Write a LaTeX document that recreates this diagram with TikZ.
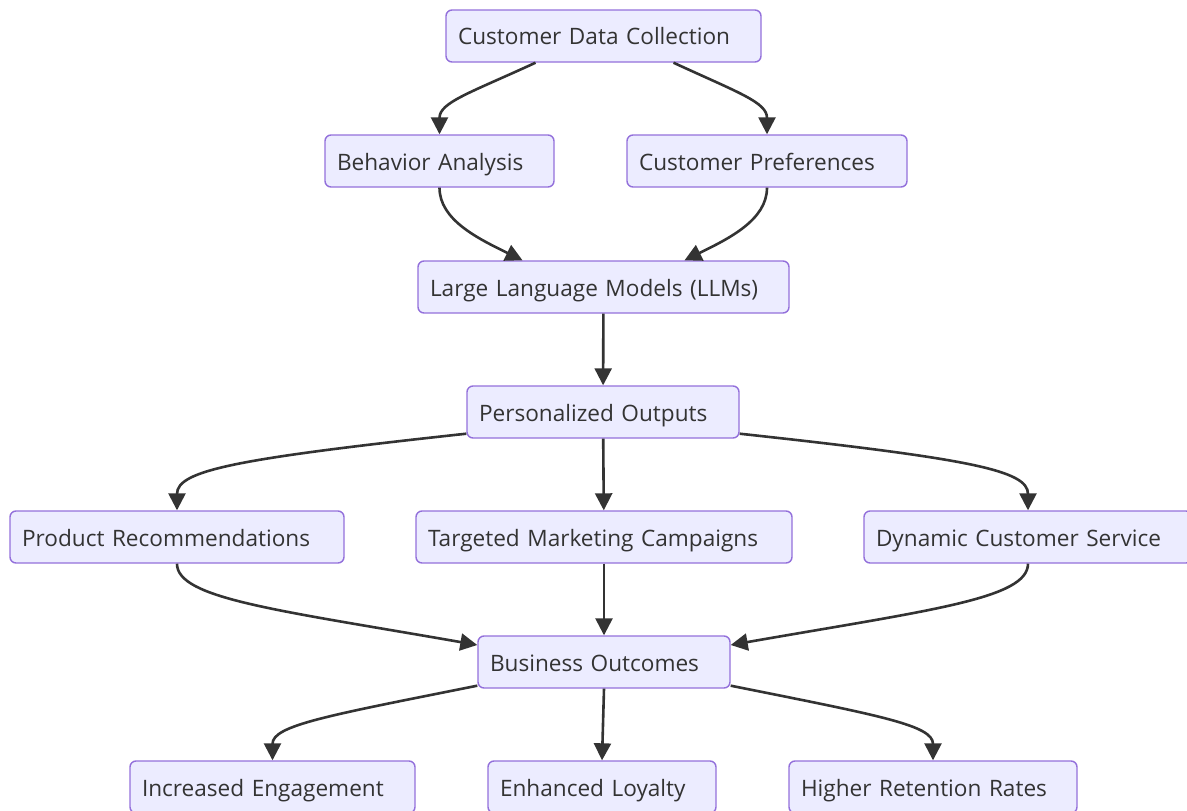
\documentclass[tikz,border=0pt]{standalone}
\usepackage{fontspec}
\setmainfont{Open Sans}
\usetikzlibrary{arrows.meta,calc}
\definecolor{boxfill}{HTML}{ECECFF}
\definecolor{boxline}{HTML}{9370DB}
\definecolor{ink}{HTML}{333333}

\begin{document}
\begin{tikzpicture}[x=1pt,y=-1pt,
		box/.style={draw=boxline, fill=boxfill, line width=1.4pt, rounded corners=6pt,
			text=ink, text width=#1, align=left, inner xsep=12pt, inner ysep=13pt,
			text height=22pt, text depth=4pt, font=\fontsize{22.6}{27}\selectfont},
		link/.style={draw=ink, line width=2.6pt, -{Triangle[length=17pt,width=17pt]}}]
			\useasboundingbox (0,0) rectangle (1187,811);
			% sources
			\node[box=291] (cdc) at (603.5,36) {Customer Data Collection};
			\node[box=205] (beh) at (439.5,161) {Behavior Analysis};
			\node[box=256] (pref) at (767,161) {Customer Preferences};
			\node[box=347] (llm) at (603.5,287) {Large Language Models (LLMs)};
			\node[box=248] (pers) at (603,412) {Personalized Outputs};
			% outputs
			\node[box=310] (prod) at (177,537) {Product Recommendations};
			\node[box=352] (tmc) at (604,537) {Targeted Marketing Campaigns};
			\node[box=304] (dyn) at (1028,537) {Dynamic Customer Service};
			\node[box=228] (bo) at (604,662) {Business Outcomes};
			% results
			\node[box=261] (ie) at (272.5,787) {Increased Engagement};
			\node[box=204] (el) at (602,787) {Enhanced Loyalty};
			\node[box=264] (hrr) at (933,787) {Higher Retention Rates};

			\draw[link] ($(cdc.south)+(-68,0)$) .. controls +(-65,30) and +(0,-32) .. (beh.north);
			\draw[link] ($(cdc.south)+(70,0)$) .. controls +(65,30) and +(0,-32) .. (pref.north);
			\draw[link] (beh.south) .. controls +(0,32) and +(-45,-22) .. ($(llm.north)+(-81,0)$);
			\draw[link] (pref.south) .. controls +(0,32) and +(45,-22) .. ($(llm.north)+(81,0)$);
			\draw[link] (llm) -- (pers);
			\draw[link] ($(pers.south west)+(0,-5)$) .. controls +(-230,25) and +(0,-40) .. (prod.north);
			\draw[link] (pers) -- (tmc);
			\draw[link] ($(pers.south east)+(0,-5)$) .. controls +(230,25) and +(0,-40) .. (dyn.north);
			\draw[link] (prod.south) .. controls +(0,35) and +(-200,-35) .. ($(bo.west)+(0,-17)$);
			\draw[link] (tmc) -- (bo);
			\draw[link] (dyn.south) .. controls +(0,35) and +(200,-35) .. ($(bo.east)+(0,-17)$);
			\draw[link] ($(bo.south west)+(0,-3)$) .. controls +(-150,30) and +(0,-35) .. (ie.north);
			\draw[link] (bo.south) -- (el.north);
			\draw[link] ($(bo.south east)+(0,-3)$) .. controls +(150,30) and +(0,-35) .. (hrr.north);
		\end{tikzpicture}
\end{document}
